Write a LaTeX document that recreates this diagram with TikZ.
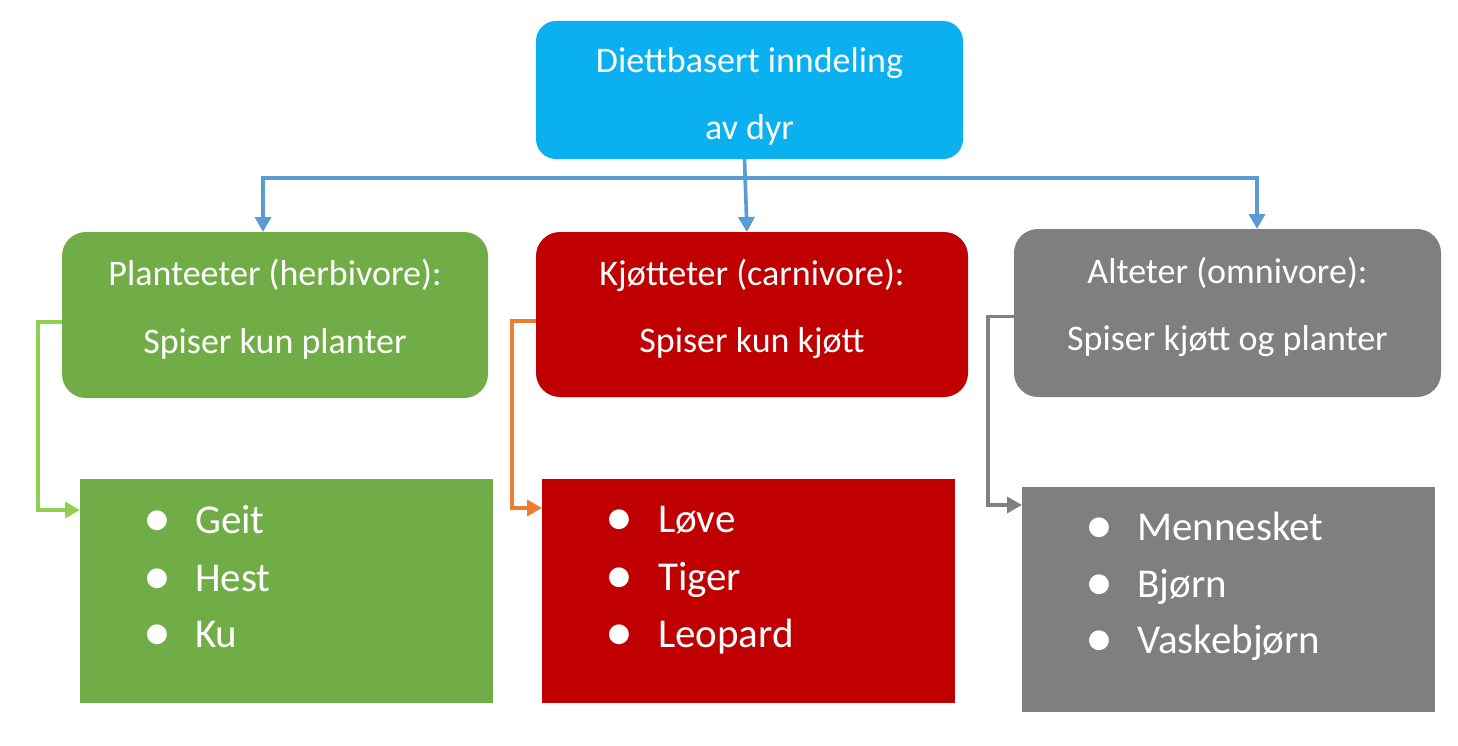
\documentclass[tikz,border=0pt]{standalone}
\usepackage{fontspec}
\setmainfont{Carlito}
\usetikzlibrary{arrows.meta}
\definecolor{cyanbox}{HTML}{0AB0EF}
\definecolor{greenbox}{HTML}{70AD47}
\definecolor{redbox}{HTML}{C00000}
\definecolor{graybox}{HTML}{7F7F7F}
\definecolor{blueline}{HTML}{5B9BD5}
\definecolor{greenline}{HTML}{92D050}
\definecolor{orangeline}{HTML}{ED7D31}
\definecolor{grayline}{HTML}{808080}
\tikzset{
  rbox/.style={rounded corners=24pt, inner sep=0pt, outer sep=0pt, anchor=north west},
  sbox/.style={inner sep=0pt, outer sep=0pt, anchor=north west},
  htext/.style={text=white, font=\fontsize{36}{40}\selectfont, anchor=base, inner sep=0pt},
  ltext/.style={text=white, font=\fontsize{41}{48}\selectfont, anchor=base west, inner sep=0pt},
  btext/.style={text=white, font=\fontsize{56}{56}\selectfont, anchor=base, inner sep=0pt, yshift=-3pt},
  conn/.style={line width=3.6pt, line join=miter, -{Triangle[width=16pt,length=15pt]}},
}
\begin{document}
\begin{tikzpicture}[x=1pt,y=-1pt]
\useasboundingbox (0,0) rectangle (1458,746);
% boxes
\node[rbox, rounded corners=20pt, fill=cyanbox, minimum width=427pt, minimum height=138pt] (top) at (536,21) {};
\node[rbox, fill=greenbox, minimum width=426pt, minimum height=166pt] (gU) at (62,232) {};
\node[rbox, fill=redbox, minimum width=432pt, minimum height=165pt] (rU) at (536,232) {};
\node[rbox, fill=graybox, minimum width=427pt, minimum height=168pt] (aU) at (1014,229) {};
\node[sbox, fill=greenbox, minimum width=413pt, minimum height=224pt] (gL) at (80,479) {};
\node[sbox, fill=redbox, minimum width=413pt, minimum height=224pt] (rL) at (542,479) {};
\node[sbox, fill=graybox, minimum width=413pt, minimum height=225pt] (aL) at (1022,487) {};
% header texts
\node[htext] (topA) at (749.5,73) {Diettbasert inndeling};
\node[htext] (topB) at (749.5,140) {av dyr};
\node[htext] (gA) at (275,285) {Planteeter (herbivore):};
\node[htext] (gB) at (275,353) {Spiser kun planter};
\node[htext] (rA) at (752,285) {Kjøtteter (carnivore):};
\node[htext] (rB) at (752,352) {Spiser kun kjøtt};
\node[htext] (aA) at (1227.5,283) {Alteter (omnivore):};
\node[htext] (aB) at (1227.5,350) {Spiser kjøtt og planter};
% lists
\node[btext] (gb1) at (157,533) {•};
\node[btext] (gb2) at (157,591) {•};
\node[btext] (gb3) at (157,647) {•};
\node[ltext] (gt1) at (195,533) {Geit};
\node[ltext] (gt2) at (195,591) {Hest};
\node[ltext] (gt3) at (195,647) {Ku};
\node[btext] (rb1) at (619,532) {•};
\node[btext] (rb2) at (619,590) {•};
\node[btext] (rb3) at (619,647) {•};
\node[ltext] (rt1) at (658,532) {Løve};
\node[ltext] (rt2) at (658,590) {Tiger};
\node[ltext] (rt3) at (658,647) {Leopard};
\node[btext] (ab1) at (1099,540) {•};
\node[btext] (ab2) at (1099,597) {•};
\node[btext] (ab3) at (1099,653) {•};
\node[ltext] (at1) at (1137,540) {Mennesket};
\node[ltext] (at2) at (1137,597) {Bjørn};
\node[ltext] (at3) at (1137,653) {Vaskebjørn};
% connectors
\coordinate (jl) at (263,178);
\coordinate (jr) at (1257,178);
\draw[conn, blueline] ([xshift=-5pt]top.south) -- ([xshift=-5pt]rU.north);
\draw[conn, blueline, {Triangle[width=16pt,length=15pt]}-{Triangle[width=16pt,length=15pt]}] (jl |- gU.north) -- (jl) -- (jr) -- (jr |- aU.north);
\draw[conn, greenline] ([yshift=-7pt]gU.west) -- ++(-24,0) |- ([yshift=81pt]gL.west);
\draw[conn, orangeline] ([yshift=-6.5pt]rU.west) -- ++(-24,0) |- ([yshift=83pt]rL.west);
\draw[conn, grayline] ([yshift=-3.5pt]aU.west) -- ++(-26,0) |- ([yshift=94.5pt]aL.west);
\end{tikzpicture}
\end{document}
